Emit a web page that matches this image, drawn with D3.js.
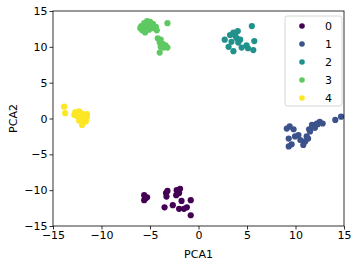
<!DOCTYPE html>
<html>
<head>
<meta charset="utf-8">
<script src="https://cdn.jsdelivr.net/npm/d3@7"></script>
<style>
  body { margin: 0; background: #fff; }
  text { font-family: "DejaVu Sans", sans-serif; }
</style>
</head>
<body>
<svg id="chart" width="357" height="266"></svg>
<script>
// cluster labels + viridis colours
const clusters = ['0', '1', '2', '3', '4'];
const colors = ['#440154', '#3b528b', '#21918c', '#5ec962', '#fde725'];
const xTicks = [-15, -10, -5, 0, 5, 10, 15];
const yTicks = [-15, -10, -5, 0, 5, 10, 15];

// points, [PCA1, PCA2]
const pts0 = [[-5.6,-10.7],[-5.5,-11.2],[-5.3,-11.0],[-5.6,-11.4],[-3.35,-10.4],[-3.2,-10.1],[-2.25,-10.0],
  [-1.9,-9.8],[-2.3,-10.7],[-1.75,-11.5],[-0.8,-11.4],[-3.5,-12.4],[-2.65,-12.1],[-2.0,-12.6],[-1.5,-12.6],
  [-0.8,-13.5],[-3.3,-10.9],[-2.0,-10.4],[-1.2,-12.4]];
const pts1 = [[9.4,-1.1],[9.8,-1.5],[9.3,-2.8],[9.95,-2.5],[10.3,-2.3],[9.3,-3.9],[9.6,-3.6],[11.0,-3.2],
  [11.15,-2.5],[11.5,-1.8],[11.85,-1.1],[12.2,-0.7],[12.5,-0.45],[11.7,-0.9],[12.0,-1.3],[11.3,-2.8],
  [14.1,-0.2],[14.7,0.25],[10.8,-3.7],[12.3,-0.8],[10.5,-3.0],[9.1,-1.4],[11.4,-1.5],[12.8,-0.7]];
const pts2 = [[5.5,12.9],[2.7,11.0],[3.25,11.65],[3.6,12.0],[4.05,12.2],[3.95,11.2],[4.3,11.0],[3.4,10.7],
  [3.1,10.0],[3.6,9.4],[4.45,9.9],[4.95,10.2],[5.1,9.8],[5.75,10.8],[5.65,9.55],[3.8,11.5],[4.1,10.6]];
const pts3 = [[-5.9,12.9],[-5.6,13.3],[-5.3,13.6],[-5.0,13.5],[-4.7,13.2],[-5.4,12.7],[-5.1,12.4],[-4.6,12.6],
  [-4.3,12.3],[-5.8,12.3],[-6.0,12.6],[-4.9,13.0],[-5.5,12.0],[-4.4,12.8],[-5.2,13.0],[-3.2,13.3],
  [-4.2,11.2],[-3.9,11.0],[-4.0,10.6],[-3.7,10.4],[-3.4,10.2],[-3.6,9.9],[-3.2,9.9],[-4.0,9.2],[-3.9,10.0]];
const pts4 = [[-13.85,1.65],[-13.75,0.75],[-12.7,0.9],[-12.3,1.0],[-12.0,0.7],[-11.8,0.5],[-12.5,0.3],
  [-12.1,0.1],[-11.7,-0.1],[-12.3,-0.3],[-11.9,-0.6],[-11.5,0.2],[-12.8,0.5],[-11.6,-0.4],[-12.0,-0.9],[-11.5,0.6]];
const series = [pts0, pts1, pts2, pts3, pts4];

const svg = d3.select('#chart');
const m = { left: 53, right: 13, top: 11, bottom: 40 };
const W = 357, H = 266;

const x = d3.scaleLinear().domain([-15, 15]).range([m.left, W - m.right]);
const y = d3.scaleLinear().domain([-15, 15]).range([H - m.bottom, m.top]);

// points
series.forEach((pts, i) => {
  svg.append('g').selectAll('circle').data(pts).enter().append('circle')
    .attr('cx', d => x(d[0])).attr('cy', d => y(d[1])).attr('r', 3.1)
    .attr('fill', colors[i]);
});

// frame
svg.append('rect').attr('x', m.left).attr('y', m.top)
  .attr('width', W - m.left - m.right).attr('height', H - m.top - m.bottom)
  .attr('fill', 'none').attr('stroke', '#000').attr('stroke-width', 0.8);

const fmt = d => d < 0 ? '\u2212' + Math.abs(d) : '' + d;

const xAxis = svg.append('g').attr('transform', `translate(0,${H - m.bottom})`)
  .call(d3.axisBottom(x).tickValues(xTicks).tickFormat(fmt).tickSize(3.5).tickPadding(2));
const yAxis = svg.append('g').attr('transform', `translate(${m.left},0)`)
  .call(d3.axisLeft(y).tickValues(yTicks).tickFormat(fmt).tickSize(3.5).tickPadding(2));
[xAxis, yAxis].forEach(a => {
  a.select('.domain').remove();
  a.selectAll('line').attr('stroke', '#000').attr('stroke-width', 0.8);
  a.selectAll('text').attr('fill', '#000').style('font-size', '11px')
    .style('font-family', '"DejaVu Sans", sans-serif');
});

svg.append('text').attr('x', (m.left + W - m.right) / 2).attr('y', 258)
  .attr('text-anchor', 'middle').style('font-size', '11px').text('PCA1');
svg.append('text').attr('transform', `translate(17,${(m.top + H - m.bottom) / 2}) rotate(-90)`)
  .attr('text-anchor', 'middle').style('font-size', '11px').text('PCA2');

// legend
const lg = svg.append('g').attr('transform', 'translate(285,16)');
lg.append('rect').attr('width', 57).attr('height', 90).attr('rx', 2.5)
  .attr('fill', '#fff').attr('fill-opacity', 0.8).attr('stroke', '#ccc').attr('stroke-width', 0.8);
clusters.forEach((c, i) => {
  const row = lg.append('g').attr('transform', `translate(0,${10 + i * 18})`);
  row.append('circle').attr('cx', 17).attr('cy', 0).attr('r', 2.8).attr('fill', colors[i]);
  row.append('text').attr('x', 40).attr('y', 0).attr('dy', '0.35em')
    .style('font-size', '11px').text(c);
});
</script>
</body>
</html>
